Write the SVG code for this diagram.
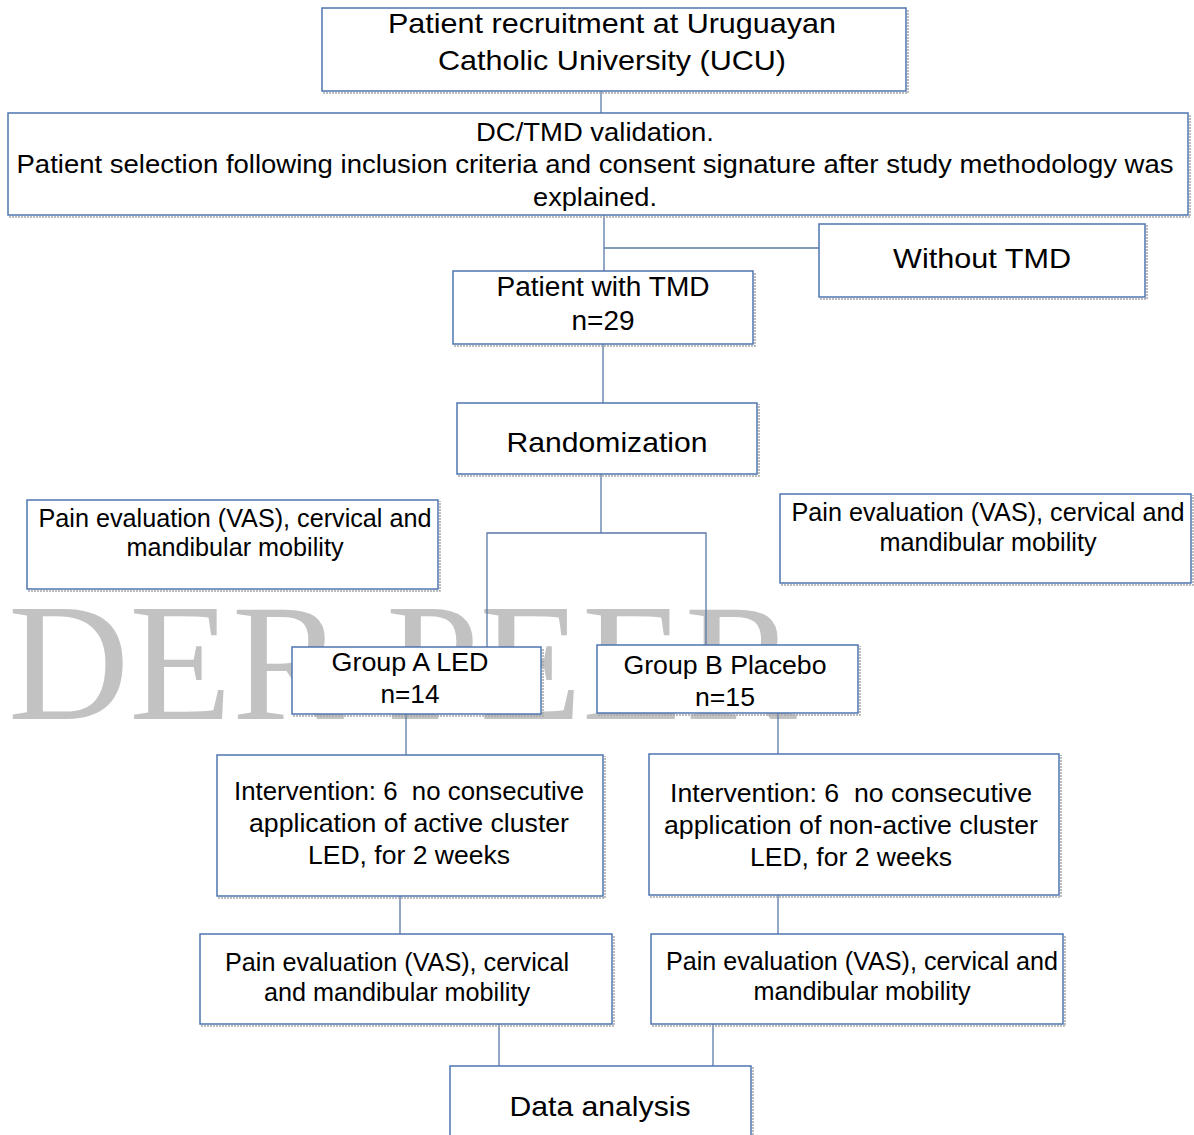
<svg xmlns="http://www.w3.org/2000/svg" width="1194" height="1135" viewBox="0 0 1194 1135">
<style>
.box{fill:#ffffff;stroke:#4f75b0;stroke-width:1.5}
.sh{fill:none;stroke:#a8a8a8;stroke-width:1.5;stroke-dasharray:2 1}
.t{font-family:"Liberation Sans",Arial,sans-serif;fill:#000;text-anchor:middle}
.conn line,.conn polyline{stroke:#5a78a8;stroke-width:1.3;fill:none}
.wm{font-family:"Liberation Serif","Times New Roman",serif;fill:#c2c2c2;font-size:168px}
</style>
<rect width="1194" height="1135" fill="#ffffff"/>
<text class="wm" x="8" y="719">DER PEER</text>
<g class="conn" id="connectors">
<line x1="601" y1="91" x2="601" y2="113"/>
<line x1="604" y1="215" x2="604" y2="271"/>
<line x1="604" y1="248" x2="819" y2="248"/>
<line x1="603" y1="344" x2="603" y2="403"/>
<line x1="601" y1="474" x2="601" y2="533"/>
<polyline points="487,647 487,533 706,533 706,645"/>
<line x1="406" y1="714" x2="406" y2="755"/>
<line x1="778" y1="713" x2="778" y2="754"/>
<line x1="400" y1="896" x2="400" y2="934"/>
<line x1="778" y1="895" x2="778" y2="934"/>
<line x1="499" y1="1024" x2="499" y2="1066"/>
<line x1="713" y1="1024" x2="713" y2="1066"/>
</g>
<g id="recruitment">
<polyline class="sh" points="323,93 908,93 908,9"/>
<rect class="box" x="322" y="8" width="584" height="83"/>
<text class="t" font-size="28" x="612" y="33" textLength="448" lengthAdjust="spacingAndGlyphs">Patient recruitment at Uruguayan</text>
<text class="t" font-size="28" x="612" y="70" textLength="348" lengthAdjust="spacingAndGlyphs">Catholic University (UCU)</text>
</g>
<g id="validation">
<polyline class="sh" points="9,217 1190,217 1190,114"/>
<rect class="box" x="8" y="113" width="1180" height="102"/>
<text class="t" font-size="25.5" x="595" y="141" textLength="238" lengthAdjust="spacingAndGlyphs">DC/TMD validation.</text>
<text class="t" font-size="25.5" x="595" y="173" textLength="1157" lengthAdjust="spacingAndGlyphs">Patient selection following inclusion criteria and consent signature after study methodology was</text>
<text class="t" font-size="25.5" x="595" y="206" textLength="124" lengthAdjust="spacingAndGlyphs">explained.</text>
</g>
<g id="without">
<polyline class="sh" points="820,299 1147,299 1147,225"/>
<rect class="box" x="819" y="224" width="326" height="73"/>
<text class="t" font-size="28" x="982" y="268" textLength="178" lengthAdjust="spacingAndGlyphs">Without TMD</text>
</g>
<g id="withTMD">
<polyline class="sh" points="454,346 755,346 755,272"/>
<rect class="box" x="453" y="271" width="300" height="73"/>
<text class="t" font-size="27" x="603" y="296" textLength="213" lengthAdjust="spacingAndGlyphs">Patient with TMD</text>
<text class="t" font-size="27" x="603" y="330" textLength="63" lengthAdjust="spacingAndGlyphs">n=29</text>
</g>
<g id="randomization">
<polyline class="sh" points="458,476 759,476 759,404"/>
<rect class="box" x="457" y="403" width="300" height="71"/>
<text class="t" font-size="28" x="607" y="452" textLength="201" lengthAdjust="spacingAndGlyphs">Randomization</text>
</g>
<g id="painLeft">
<polyline class="sh" points="28,591 440,591 440,501"/>
<rect class="box" x="27" y="500" width="411" height="89"/>
<text class="t" font-size="25" x="235" y="527" textLength="393" lengthAdjust="spacingAndGlyphs">Pain evaluation (VAS), cervical and</text>
<text class="t" font-size="25" x="235" y="556" textLength="217" lengthAdjust="spacingAndGlyphs">mandibular mobility</text>
</g>
<g id="painRight">
<polyline class="sh" points="781,585 1193,585 1193,495"/>
<rect class="box" x="780" y="494" width="411" height="89"/>
<text class="t" font-size="25" x="988" y="521" textLength="393" lengthAdjust="spacingAndGlyphs">Pain evaluation (VAS), cervical and</text>
<text class="t" font-size="25" x="988" y="551" textLength="217" lengthAdjust="spacingAndGlyphs">mandibular mobility</text>
</g>
<g id="groupA">
<polyline class="sh" points="293,716 543,716 543,648"/>
<rect class="box" x="292" y="647" width="249" height="67"/>
<text class="t" font-size="25" x="410" y="671" textLength="157" lengthAdjust="spacingAndGlyphs">Group A LED</text>
<text class="t" font-size="25" x="410" y="703" textLength="59" lengthAdjust="spacingAndGlyphs">n=14</text>
</g>
<g id="groupB">
<polyline class="sh" points="598,715 860,715 860,646"/>
<rect class="box" x="597" y="645" width="261" height="68"/>
<text class="t" font-size="25" x="725" y="674" textLength="203" lengthAdjust="spacingAndGlyphs">Group B Placebo</text>
<text class="t" font-size="25" x="725" y="706" textLength="60" lengthAdjust="spacingAndGlyphs">n=15</text>
</g>
<g id="interventionA">
<polyline class="sh" points="218,898 605,898 605,756"/>
<rect class="box" x="217" y="755" width="386" height="141"/>
<text class="t" font-size="25" x="409" y="800" textLength="350" lengthAdjust="spacingAndGlyphs" xml:space="preserve">Intervention: 6  no consecutive</text>
<text class="t" font-size="25" x="409" y="832" textLength="320" lengthAdjust="spacingAndGlyphs">application of active cluster</text>
<text class="t" font-size="25" x="409" y="864" textLength="202" lengthAdjust="spacingAndGlyphs">LED, for 2 weeks</text>
</g>
<g id="interventionB">
<polyline class="sh" points="650,897 1061,897 1061,755"/>
<rect class="box" x="649" y="754" width="410" height="141"/>
<text class="t" font-size="25" x="851" y="802" textLength="362" lengthAdjust="spacingAndGlyphs" xml:space="preserve">Intervention: 6  no consecutive</text>
<text class="t" font-size="25" x="851" y="834" textLength="374" lengthAdjust="spacingAndGlyphs">application of non-active cluster</text>
<text class="t" font-size="25" x="851" y="866" textLength="202" lengthAdjust="spacingAndGlyphs">LED, for 2 weeks</text>
</g>
<g id="painA">
<polyline class="sh" points="201,1026 614,1026 614,935"/>
<rect class="box" x="200" y="934" width="412" height="90"/>
<text class="t" font-size="25" x="397" y="971" textLength="344" lengthAdjust="spacingAndGlyphs">Pain evaluation (VAS), cervical</text>
<text class="t" font-size="25" x="397" y="1001" textLength="266" lengthAdjust="spacingAndGlyphs">and mandibular mobility</text>
</g>
<g id="painB">
<polyline class="sh" points="652,1026 1065,1026 1065,935"/>
<rect class="box" x="651" y="934" width="412" height="90"/>
<text class="t" font-size="25" x="862" y="970" textLength="392" lengthAdjust="spacingAndGlyphs">Pain evaluation (VAS), cervical and</text>
<text class="t" font-size="25" x="862" y="1000" textLength="217" lengthAdjust="spacingAndGlyphs">mandibular mobility</text>
</g>
<g id="dataAnalysis">
<polyline class="sh" points="753,1067 753,1140"/>
<rect class="box" x="450" y="1066" width="301" height="80"/>
<text class="t" font-size="28" x="600" y="1116" textLength="181" lengthAdjust="spacingAndGlyphs">Data analysis</text>
</g>
</svg>
